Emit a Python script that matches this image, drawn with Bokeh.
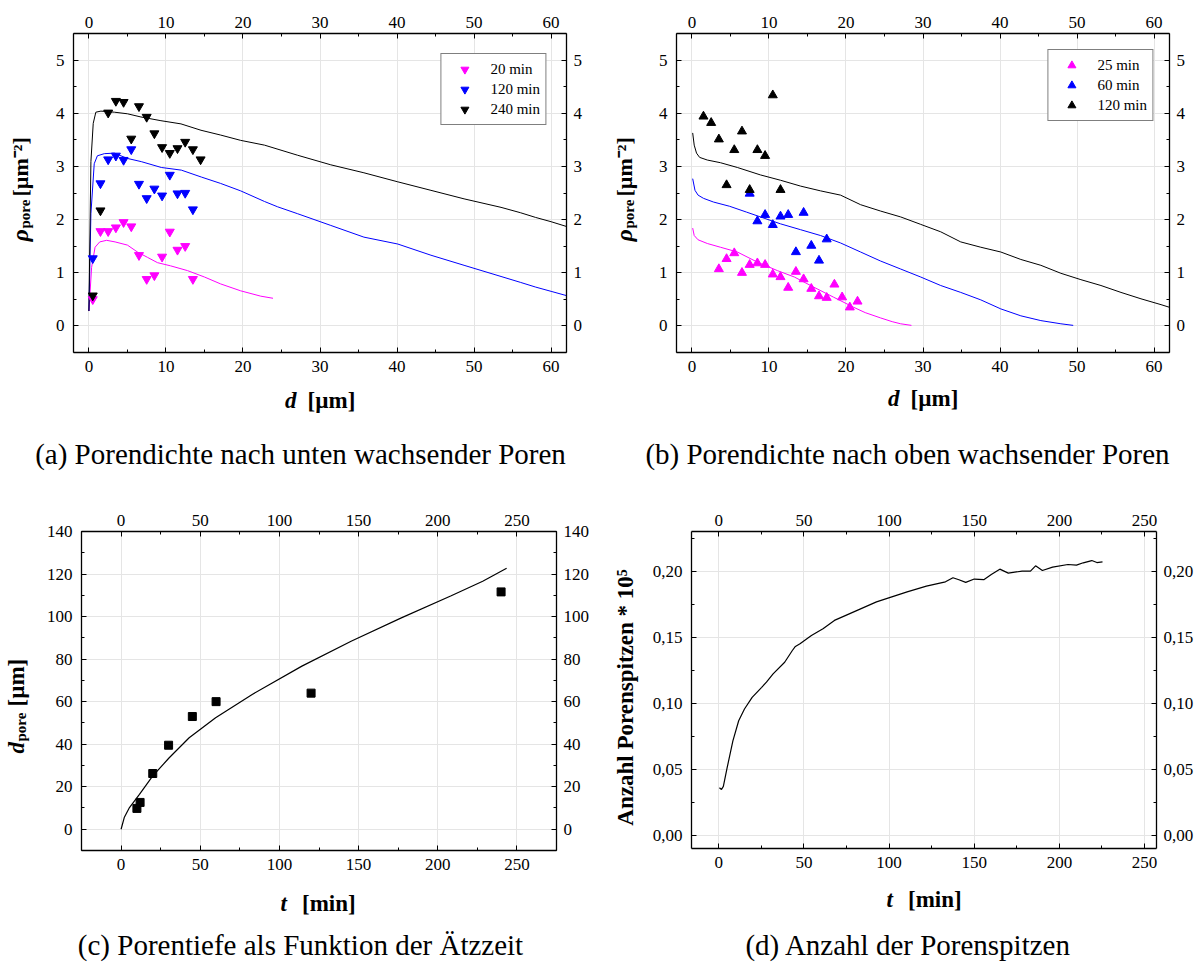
from math import pi
from bokeh.plotting import figure
from bokeh.models import (LinearAxis, Range1d, SingleIntervalTicker, CustomJSTickFormatter)
from bokeh.core.properties import value
from bokeh.layouts import column, row
from bokeh.embed import file_html
from bokeh.resources import INLINE

# ---------------- data ----------------
# (a) downward growing pores
a_pts_d = [0.5, 1.5, 2.5, 3.5, 4.5, 5.5, 6.5, 7.5, 8.5, 9.5, 10.5, 11.5, 12.5, 13.5]
a_pts20 = [0.50, 1.78, 1.78, 1.85, 1.95, 1.87, 1.33, 0.88, 0.95, 1.30, 1.77, 1.43, 1.50, 0.88]
a_pts120 = [1.27, 2.68, 3.13, 3.20, 3.12, 3.32, 2.67, 2.40, 2.58, 2.45, 2.84, 2.49, 2.50, 2.19]
a_pts240_d = [0.5, 1.5, 2.5, 3.5, 4.5, 5.5, 6.5, 7.5, 8.5, 9.5, 10.5, 11.5, 12.5, 13.5, 14.5]
a_pts240 = [0.57, 2.17, 4.01, 4.23, 4.21, 3.52, 4.13, 3.93, 3.62, 3.36, 3.25, 3.34, 3.46, 3.32, 3.13]

a_line20_d = [0.0, 0.35, 0.8, 1.4, 2.3, 3.4, 5.0, 6.3, 7.6, 8.9, 10.6, 12.8, 15.0, 17.1, 19.7, 22.3, 23.9]
a_line20 = [0.28, 1.10, 1.48, 1.58, 1.61, 1.58, 1.52, 1.39, 1.29, 1.19, 1.13, 1.04, 0.92, 0.79, 0.66, 0.56, 0.52]
a_line120_d = [0.0, 0.26, 0.69, 1.1, 2.0, 3.3, 5.0, 6.8, 9.4, 12.0, 14.6, 17.1, 19.7, 22.8, 24.5,
               27.1, 31.4, 35.7, 40.1, 44.4, 48.7, 53.5, 56.0, 58.0, 60.0, 62.0]
a_line120 = [0.28, 2.11, 3.05, 3.20, 3.24, 3.25, 3.15, 3.09, 2.98, 2.93, 2.80, 2.68, 2.54, 2.34, 2.24,
             2.11, 1.89, 1.67, 1.54, 1.33, 1.14, 0.93, 0.82, 0.73, 0.65, 0.57]
a_line240_d = [0.0, 0.26, 0.56, 0.9, 1.56, 3.3, 5.0, 6.75, 9.35, 11.95, 14.55, 17.1, 19.7, 22.8,
               27.1, 31.4, 35.7, 40.1, 44.4, 48.7, 53.5, 56.0, 58.0, 60.0, 62.0]
a_line240 = [0.28, 3.09, 3.81, 4.02, 4.04, 4.02, 3.99, 3.93, 3.86, 3.80, 3.68, 3.59, 3.49, 3.40,
             3.21, 3.03, 2.88, 2.71, 2.55, 2.39, 2.23, 2.13, 2.04, 1.96, 1.87]

# (b) upward growing pores
b_pts25_d = [3.5, 4.5, 5.5, 6.5, 7.5, 8.5, 9.5, 10.5, 11.5, 12.5, 13.5, 14.5, 15.5, 16.5, 17.5,
             18.5, 19.5, 20.5, 21.5]
b_pts25 = [1.07, 1.26, 1.37, 1.00, 1.15, 1.18, 1.15, 0.97, 0.92, 0.72, 1.02, 0.88, 0.70, 0.56,
           0.53, 0.78, 0.54, 0.35, 0.46]
b_pts60_d = [7.5, 8.5, 9.5, 10.5, 11.5, 12.5, 13.5, 14.5, 15.5, 16.5, 17.5]
b_pts60 = [2.49, 1.97, 2.09, 1.90, 2.06, 2.09, 1.39, 2.13, 1.51, 1.23, 1.63]
b_pts120_d = [1.5, 2.5, 3.5, 4.5, 5.5, 6.5, 7.5, 8.5, 9.5, 10.5, 11.5]
b_pts120 = [3.94, 3.82, 3.51, 2.65, 3.31, 3.66, 2.56, 3.31, 3.20, 4.34, 2.56]

b_line25_d = [0.1, 0.3, 0.8, 2.0, 3.7, 5.9, 8.5, 11.1, 13.3, 15.8, 18.4, 21.0, 22.5, 24.5, 26.0, 27.1, 28.5]
b_line25 = [1.84, 1.70, 1.62, 1.55, 1.48, 1.39, 1.20, 1.04, 0.92, 0.73, 0.54, 0.35, 0.25, 0.15, 0.08, 0.04, 0.01]
b_line60_d = [0.1, 0.4, 0.8, 1.5, 2.8, 4.9, 7.1, 8.9, 11.5, 14.1, 16.7, 19.3, 21.9, 24.5, 27.1, 29.7,
              32.3, 34.9, 37.5, 40.1, 42.7, 45.3, 47.9, 49.5]
b_line60 = [2.77, 2.55, 2.46, 2.40, 2.33, 2.25, 2.14, 2.05, 1.92, 1.81, 1.70, 1.56, 1.39, 1.22, 1.07, 0.92,
            0.76, 0.63, 0.49, 0.32, 0.19, 0.10, 0.04, 0.01]
b_line120_d = [0.1, 0.3, 0.6, 1.0, 2.0, 3.7, 5.9, 8.9, 11.5, 14.1, 16.7, 19.3, 21.9, 24.5, 27.1, 29.7,
               32.3, 34.9, 37.5, 40.1, 42.7, 45.3, 47.9, 50.5, 53.1, 55.7, 58.3, 60.9, 62.0]
b_line120 = [3.63, 3.40, 3.25, 3.17, 3.12, 3.07, 2.98, 2.84, 2.74, 2.63, 2.54, 2.46, 2.28, 2.16, 2.05, 1.91,
             1.77, 1.58, 1.48, 1.39, 1.25, 1.14, 0.99, 0.87, 0.76, 0.63, 0.51, 0.40, 0.35]

# (c) pore depth vs. etching time
c_t = [10, 12, 20, 30, 45, 60, 120, 240]
c_d = [9.8, 12.6, 26.2, 39.5, 53.0, 60.0, 64.0, 111.6]
c_fit_t = [0, 2, 5.3, 11.6, 19.9, 30.4, 43, 59.7, 82.8, 114.2, 145.6, 177, 208.5, 228.4, 243.5]
c_fit_d = [0, 5.5, 10.2, 16.4, 25.0, 33.6, 43.0, 52.4, 63.4, 76.7, 88.5, 99.4, 109.8, 116.6, 122.7]

# (d) number of pore tips
d_t = [0.4, 1.6, 2.7, 4.9, 8.3, 11.7, 15.1, 19.6, 25.2, 28.0, 31.9, 38.7, 43.2, 45.0, 47.7, 54.4,
       61.2, 67.9, 74.6, 83.6, 92.6, 101.6, 110.6, 121.9, 133.1, 137.5, 141.0, 145.0, 150.0, 155.6,
       160.0, 165.0, 170.0, 178.1, 183.0, 186.0, 190.0, 196.0, 205.0, 210.0, 214.0, 219.0, 222.0, 225.3]
d_n = [0.0360, 0.0347, 0.0370, 0.0510, 0.0715, 0.0867, 0.0956, 0.1044, 0.1120, 0.1160, 0.1222, 0.1310,
       0.1399, 0.1430, 0.1450, 0.1513, 0.1564, 0.1627, 0.1665, 0.1716, 0.1767, 0.1805, 0.1843, 0.1886,
       0.1919, 0.1950, 0.1935, 0.1915, 0.1940, 0.1935, 0.1975, 0.2015, 0.1985, 0.2000, 0.2000, 0.2040,
       0.2005, 0.2030, 0.2050, 0.2045, 0.2063, 0.2080, 0.2065, 0.2070]

# ---------------- styling helpers ----------------
SERIF = "Liberation Serif"
TICK_PX = "17px"
MAGENTA = "#FF00FF"
BLUE = "#0000FF"
BLACK = "#000000"
R = pi / 2


def make_fig(width, height, xr, yr, mbl, mbr, mbt, mbb, xint, yint, fmt=None):
    p = figure(width=width, height=height, x_range=Range1d(*xr), y_range=Range1d(*yr),
               output_backend="svg", toolbar_location=None,
               x_axis_location=None, y_axis_location=None,
               min_border_left=mbl, min_border_right=mbr,
               min_border_top=mbt, min_border_bottom=mbb)
    p.outline_line_color = None
    p.background_fill_color = "white"
    p.border_fill_color = "white"
    for loc, interval, standoff in [("below", xint, 8), ("above", xint, 6),
                                    ("left", yint, 9), ("right", yint, 7)]:
        ax = LinearAxis(ticker=SingleIntervalTicker(interval=interval, num_minor_ticks=2))
        ax.axis_line_color = BLACK
        ax.axis_line_width = 1.3
        ax.major_tick_in = 5
        ax.major_tick_out = 0
        ax.minor_tick_in = 3
        ax.minor_tick_out = 0
        ax.major_tick_line_color = BLACK
        ax.minor_tick_line_color = BLACK
        ax.major_label_text_font = SERIF
        ax.major_label_text_font_size = TICK_PX
        ax.major_label_text_color = BLACK
        ax.major_label_standoff = standoff
        if fmt is not None and loc in ("left", "right"):
            ax.formatter = fmt
        p.add_layout(ax, loc)
    return p


def text_fig(w, h):
    f = figure(frame_width=w, frame_height=h, x_range=Range1d(0, w), y_range=Range1d(0, h),
               output_backend="svg", toolbar_location=None, min_border=0,
               min_border_left=0, min_border_right=0, min_border_top=0, min_border_bottom=0,
               x_axis_location=None, y_axis_location=None, title=None)
    f.outline_line_color = None
    f.background_fill_color = "white"
    f.border_fill_color = "white"
    f.grid.visible = False
    f._h = h
    return f


def txt(f, x, y, text, size, style="bold", angle=0.0, align="left", baseline="alphabetic"):
    # x, y in local pixels measured from the top-left corner of the text figure
    f.text(x=[x], y=[f._h - y], text=[text], text_font=value(SERIF),
           text_font_size=f"{size}px", text_font_style=style, angle=angle,
           text_align=align, text_baseline=baseline, text_color=BLACK)


def x_title(f, cx, cy, letter, rest, split_left, split_right):
    txt(f, cx - split_left, cy, letter, 23, "bold italic", align="right", baseline="middle")
    txt(f, cx - split_right, cy, rest, 23, "bold", align="left", baseline="middle")


def rho_title(f, x0, y0):
    # y0 = local pixel row where the (vertical) title starts, growing upward
    txt(f, x0, y0, "\u03c1", 24, "bold italic", angle=R)
    txt(f, x0 + 5, y0 - 13, "pore", 15, "bold", angle=R)
    txt(f, x0, y0 - 45, "[\u00b5m\u207b\u00b2]", 22, "bold", angle=R)


def style_legend(p, margin):
    lg = p.legend[0]
    lg.location = "top_right"
    lg.margin = margin
    lg.border_line_color = BLACK
    lg.border_line_width = 1
    lg.padding = 5
    lg.spacing = 0
    lg.label_height = 20
    lg.glyph_height = 20
    lg.glyph_width = 36
    lg.label_standoff = 8
    lg.label_text_font = SERIF
    lg.label_text_font_size = "15px"
    lg.label_text_color = BLACK
    lg.background_fill_alpha = 1.0


# ---------------- panel (a) ----------------
pa = make_fig(553, 382, (-2, 62), (-0.5, 5.5), 25, 35, 33, 30, 10, 1)
pa.line(a_line20_d, a_line20, line_color=MAGENTA, line_width=1)
pa.line(a_line120_d, a_line120, line_color=BLUE, line_width=1)
pa.line(a_line240_d, a_line240, line_color=BLACK, line_width=1)
pa.scatter(a_pts_d, a_pts20, marker="inverted_triangle", size=9, color=MAGENTA, legend_label="20 min")
pa.scatter(a_pts_d, a_pts120, marker="inverted_triangle", size=9, color=BLUE, legend_label="120 min")
pa.scatter(a_pts240_d, a_pts240, marker="inverted_triangle", size=9, color=BLACK, legend_label="240 min")
style_legend(pa, 20)
ya = text_fig(48, 382)
rho_title(ya, 19.5, 208)
capa = text_fig(601, 106)
x_title(capa, 319.5, 18, "d", "[\u00b5m]", 23.4, 12.4)
txt(capa, 300, 71, "(a) Porendichte nach unten wachsender Poren", 29, "normal",
    align="center", baseline="middle")

# ---------------- panel (b) ----------------
pb = make_fig(549, 382, (-2, 62), (-0.5, 5.5), 25, 31, 33, 30, 10, 1)
pb.line(b_line25_d, b_line25, line_color=MAGENTA, line_width=1)
pb.line(b_line60_d, b_line60, line_color=BLUE, line_width=1)
pb.line(b_line120_d, b_line120, line_color=BLACK, line_width=1)
pb.scatter(b_pts25_d, b_pts25, marker="triangle", size=9, color=MAGENTA, legend_label="25 min")
pb.scatter(b_pts60_d, b_pts60, marker="triangle", size=9, color=BLUE, legend_label="60 min")
pb.scatter(b_pts120_d, b_pts120, marker="triangle", size=9, color=BLACK, legend_label="120 min")
style_legend(pb, 16)
yb = text_fig(50, 382)
rho_title(yb, 22.5, 208)
capb = text_fig(599, 106)
x_title(capb, 321.5, 16, "d", "[\u00b5m]", 23.4, 12.4)
txt(capb, 306, 71, "(b) Porendichte nach oben wachsender Poren", 29, "normal",
    align="center", baseline="middle")

# ---------------- panel (c) ----------------
pc = make_fig(558, 392, (-25, 275), (-10, 140), 36, 45, 43, 30, 50, 20)
pc.line(c_fit_t, c_fit_d, line_color=BLACK, line_width=1.2)
pc.scatter(c_t, c_d, marker="square", size=8, color=BLACK)
yc = text_fig(43, 392)
txt(yc, 15.5, 222, "d", 23, "bold italic", angle=R)
txt(yc, 20.5, 210, "pore", 15, "bold", angle=R)
txt(yc, 15.5, 175, "[\u00b5m]", 23, "bold", angle=R)
capc = text_fig(601, 84)
x_title(capc, 317.5, 23, "t", "[min]", 31, 16)
txt(capc, 300, 64, "(c) Porentiefe als Funktion der \u00c4tzzeit", 29, "normal",
    align="center", baseline="middle")

# ---------------- panel (d) ----------------
comma_fmt = CustomJSTickFormatter(code="return tick.toFixed(2).replace('.', ',');")
pd_ = make_fig(554, 390, (-16, 257), (-0.01, 0.23), 45, 44, 43, 30, 50, 0.05, fmt=comma_fmt)
pd_.line(d_t, d_n, line_color=BLACK, line_width=1.2)
yd = text_fig(45, 390)
txt(yd, 23.5, 166, "Anzahl Porenspitzen * 10\u2075", 23, "bold", angle=R,
    align="center", baseline="middle")
capd = text_fig(599, 86)
x_title(capd, 322.5, 21, "t", "[min]", 31, 16)
txt(capd, 307, 66, "(d) Anzahl der Porenspitzen", 29, "normal",
    align="center", baseline="middle")

cell_a = column(row(ya, pa), capa)
cell_b = column(row(yb, pb), capb)
cell_c = column(row(yc, pc), capc)
cell_d = column(row(yd, pd_), capd)
layout = column(row(cell_a, cell_b), row(cell_c, cell_d))
open("out.html", "w").write(file_html(layout, INLINE))
